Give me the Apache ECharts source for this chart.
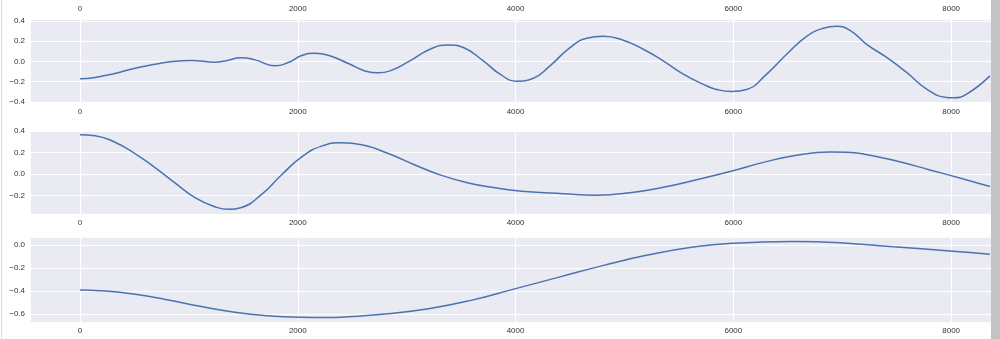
<!DOCTYPE html>
<html>
<head>
<meta charset="utf-8">
<script src="https://cdn.jsdelivr.net/npm/echarts@6/dist/echarts.min.js"></script>
<style>
html,body{margin:0;padding:0;background:#fff;}
#chart{width:1000px;height:339px;}
</style>
</head>
<body>
<div id="chart"></div>
<script>
// x tick labels shared by all panels
const xTicks = [0, 2000, 4000, 6000, 8000];
// y tick labels per panel
const yTicks1 = [-0.4, -0.2, 0.0, 0.2, 0.4];
const yTicks2 = [-0.2, 0.0, 0.2, 0.4];
const yTicks3 = [-0.6, -0.4, -0.2, 0.0];

// Panel 1 series
const p1X = [0,138,321,505,689,872,1025,1240,1331,1484,1607,1791,1913,2036,2158,2280,2464,2617,2740,2847,3030,3214,3382,3520,3704,3857,4010,4163,4316,4500,4653,4805,4989,5173,5356,5540,5754,5846,5984,6122,6306,6489,6673,6826,6948,7071,7224,7408,7591,7775,7958,8019,8142,8356];
const p1Y = [-0.171,-0.158,-0.118,-0.066,-0.027,0.003,0.010,-0.007,0.006,0.036,0.016,-0.043,-0.010,0.059,0.082,0.062,-0.020,-0.093,-0.112,-0.093,0.006,0.121,0.164,0.138,0.006,-0.125,-0.194,-0.165,-0.043,0.138,0.230,0.249,0.210,0.121,0.006,-0.125,-0.240,-0.276,-0.296,-0.276,-0.125,0.072,0.249,0.328,0.348,0.308,0.170,0.040,-0.108,-0.273,-0.355,-0.358,-0.322,-0.142];

// Panel 2 series
const p2X = [0,138,321,505,689,872,1056,1240,1362,1484,1668,1852,2036,2219,2403,2587,2831,3076,3321,3566,3811,4056,4438,4744,5051,5356,5663,5969,6275,6581,6887,7040,7193,7499,7805,8111,8356];
const p2Y = [0.366,0.357,0.296,0.191,0.060,-0.082,-0.218,-0.303,-0.327,-0.309,-0.188,-0.006,0.160,0.260,0.290,0.273,0.191,0.085,-0.012,-0.082,-0.127,-0.158,-0.182,-0.195,-0.173,-0.122,-0.052,0.024,0.109,0.175,0.205,0.203,0.187,0.121,0.039,-0.045,-0.115];

// Panel 3 series
const p3X = [0,184,490,796,1102,1408,1714,2020,2250,2500,2800,3200,3600,4000,4400,4800,5200,5632,5999,6550,7009,7468,7989,8356];
const p3Y = [-0.392,-0.398,-0.427,-0.476,-0.534,-0.583,-0.615,-0.629,-0.631,-0.622,-0.600,-0.555,-0.480,-0.380,-0.280,-0.180,-0.090,-0.018,0.015,0.029,0.017,-0.017,-0.052,-0.081];

const zip = (xs, ys) => xs.map((x, i) => [x, ys[i]]);
const FONT = 'Liberation Sans, Arial, sans-serif';
const LABEL_COLOR = '#333';
const XMIN = -450, XMAX = 8366;

function xAxis(gridIndex) {
  return {
    type: 'value', gridIndex, min: XMIN, max: XMAX,
    axisLine: {show: false},
    axisTick: {show: false, customValues: xTicks},
    axisLabel: {customValues: xTicks, fontSize: 8, color: LABEL_COLOR, fontFamily: FONT, margin: 5,
      formatter: v => String(Math.round(v))},
    splitLine: {show: gridIndex > 0, lineStyle: {color: '#fff', width: 1}}
  };
}
function yAxis(gridIndex, min, max, ticks) {
  return {
    type: 'value', gridIndex, min, max,
    axisLine: {show: false},
    axisTick: {show: false, customValues: ticks},
    axisLabel: {customValues: ticks, fontSize: 8, color: LABEL_COLOR, fontFamily: FONT, margin: 6,
      formatter: v => v.toFixed(1).replace('-', '\u2212')},
    splitLine: {show: true, lineStyle: {color: '#fff', width: 1}}
  };
}
const gridBase = {left: 31, width: 960, show: true, backgroundColor: '#EAEAF2', borderWidth: 0};
const lineStyle = {color: '#4C72B0', width: 1.5};
function series(i, data) {
  return {type: 'line', xAxisIndex: i, yAxisIndex: i, data, showSymbol: false, smooth: 0.5,
    lineStyle, clip: true, silent: true, animation: false};
}

const chart = echarts.init(document.getElementById('chart'), null, {renderer: 'canvas'});
chart.setOption({
  animation: false,
  backgroundColor: '#fff',
  grid: [
    {left: 31, width: 960, top: -30, height: 24, show: false},
    Object.assign({}, gridBase, {top: 20, height: 83}),
    Object.assign({}, gridBase, {top: 131, height: 83}),
    Object.assign({}, gridBase, {top: 238, height: 84})
  ],
  xAxis: [xAxis(0), xAxis(1), xAxis(2), xAxis(3)],
  yAxis: [
    {type: 'value', gridIndex: 0, show: false, min: 0, max: 1, splitLine: {show: false}},
    yAxis(1, -0.41, 0.41, yTicks1),
    yAxis(2, -0.37, 0.40, yTicks2),
    yAxis(3, -0.67, 0.06, yTicks3)
  ],
  series: [
    series(1, zip(p1X, p1Y)),
    series(2, zip(p2X, p2Y)),
    series(3, zip(p3X, p3Y))
  ],
  graphic: [
    {type: 'rect', shape: {x: 991, y: 0, width: 9, height: 339}, style: {fill: '#c3c3c3'}, silent: true},
    {type: 'line', shape: {x1: 1.5, y1: 0, x2: 1.5, y2: 339}, style: {stroke: '#dcdcdc', lineWidth: 1}, silent: true}
  ]
});
</script>
</body>
</html>
